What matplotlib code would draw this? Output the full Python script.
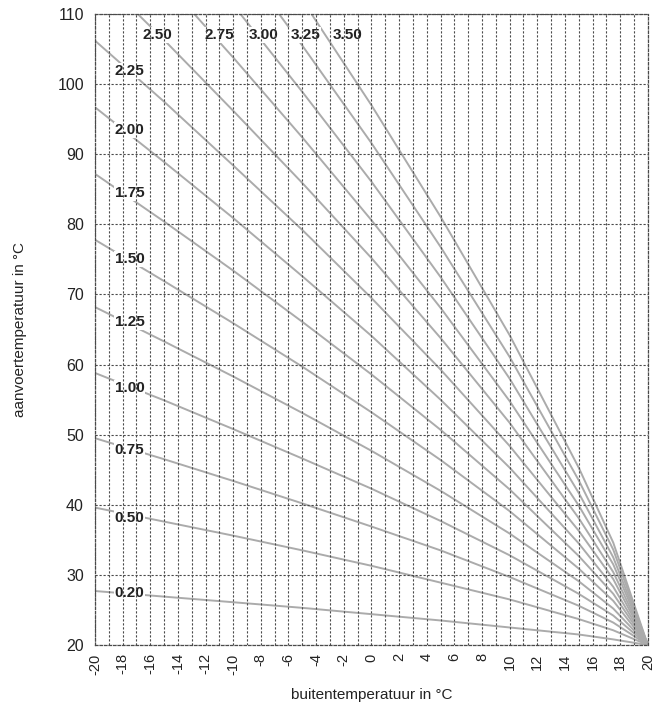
import numpy as np
import matplotlib
matplotlib.use('Agg')
import matplotlib.pyplot as plt
from matplotlib.ticker import MultipleLocator

plt.rcParams['font.family'] = ['Liberation Sans', 'DejaVu Sans']
plt.rcParams['axes.unicode_minus'] = False

x_out = [-20, -15, -10, -5, 0, 5, 10, 15, 17.5, 20]

# flow temperature per heating curve
c020 = [27.7, 26.9, 26.1, 25.3, 24.4, 23.5, 22.5, 21.5, 20.8, 20]
c050 = [39.6, 37.6, 35.6, 33.5, 31.3, 28.9, 26.5, 23.7, 22.1, 20]
c075 = [49.5, 46.5, 43.4, 40.2, 36.9, 33.5, 29.7, 25.6, 23.2, 20]
c100 = [58.8, 54.9, 50.8, 46.6, 42.3, 37.7, 32.8, 27.3, 24.2, 20]
c125 = [68.2, 63.3, 58.3, 53.1, 47.7, 42.0, 35.9, 29.1, 25.2, 20]
c150 = [77.8, 71.9, 65.9, 59.7, 53.2, 46.4, 39.1, 30.9, 26.3, 20]
c175 = [87.2, 80.4, 73.4, 66.1, 58.6, 50.7, 42.2, 32.7, 27.3, 20]
c200 = [96.7, 88.9, 80.9, 72.6, 64.1, 55.0, 45.3, 34.5, 28.3, 20]
c225 = [106.2, 97.5, 88.4, 79.2, 69.5, 59.3, 48.4, 36.3, 29.4, 20]
c250 = [116.0, 106.3, 96.2, 85.9, 75.2, 63.8, 51.7, 38.1, 30.4, 20]
c275 = [125.5, 114.8, 103.8, 92.4, 80.6, 68.1, 54.8, 39.9, 31.5, 20]
c300 = [135.0, 123.3, 111.3, 98.9, 86.1, 72.5, 58.0, 41.7, 32.5, 20]
c325 = [144.6, 132.0, 118.9, 105.5, 91.6, 76.8, 61.1, 43.5, 33.6, 20]
c350 = [154.0, 140.4, 126.4, 112.0, 97.0, 81.1, 64.2, 45.3, 34.6, 20]

curves = [c020, c050, c075, c100, c125, c150, c175, c200, c225,
          c250, c275, c300, c325, c350]
labels = ['0.20', '0.50', '0.75', '1.00', '1.25', '1.50', '1.75', '2.00',
          '2.25', '2.50', '2.75', '3.00', '3.25', '3.50']
# label positions (x, y) in data coords
lab_x = [-17.5] * 9 + [-15.5, -11.0, -7.8, -4.8, -1.7]
lab_y = [27.4, 38.1, 47.8, 56.6, 66.1, 75.0, 84.5, 93.5, 101.9,
         107.0, 107.0, 107.0, 107.0, 107.0]

fig = plt.figure(figsize=(6.57, 7.12), dpi=100)
ax = fig.add_axes([0.1446, 0.0941, 0.8414, 0.8862])

for c in curves:
    ax.plot(x_out, c, '-', color='#ababab', lw=1.4, zorder=1)

for t, lx, ly in zip(labels, lab_x, lab_y):
    ax.text(lx, ly, t, ha='center', va='center', fontsize=11,
            fontweight='bold', color='#222222', zorder=2,
            bbox=dict(facecolor='white', edgecolor='none', pad=0.8))

ax.set_xlim(-20, 20)
ax.set_ylim(20, 110)
ax.xaxis.set_major_locator(MultipleLocator(2))
ax.xaxis.set_minor_locator(MultipleLocator(1))
ax.yaxis.set_major_locator(MultipleLocator(10))

gstyle = dict(color='#4a4a4a', linestyle=(0, (2, 1.6)), linewidth=0.8)
ax.set_axisbelow(False)
ax.grid(True, which='major', axis='both', **gstyle)
ax.grid(True, which='minor', axis='x', **gstyle)

for sp in ax.spines.values():
    sp.set_linestyle((0, (2, 1.6)))
    sp.set_color('#4a4a4a')
    sp.set_linewidth(0.9)

ax.tick_params(which='both', length=0)
ax.tick_params(axis='x', labelrotation=90, labelsize=10.5, pad=6, colors='#222222')
ax.tick_params(axis='y', labelsize=11.5, pad=8, colors='#222222')

ax.set_xlabel('buitentemperatuur in °C', fontsize=11, color='#222222', labelpad=10)
ax.set_ylabel('aanvoertemperatuur in °C', fontsize=11, color='#222222', labelpad=22)

plt.savefig('out.png', dpi=100)
